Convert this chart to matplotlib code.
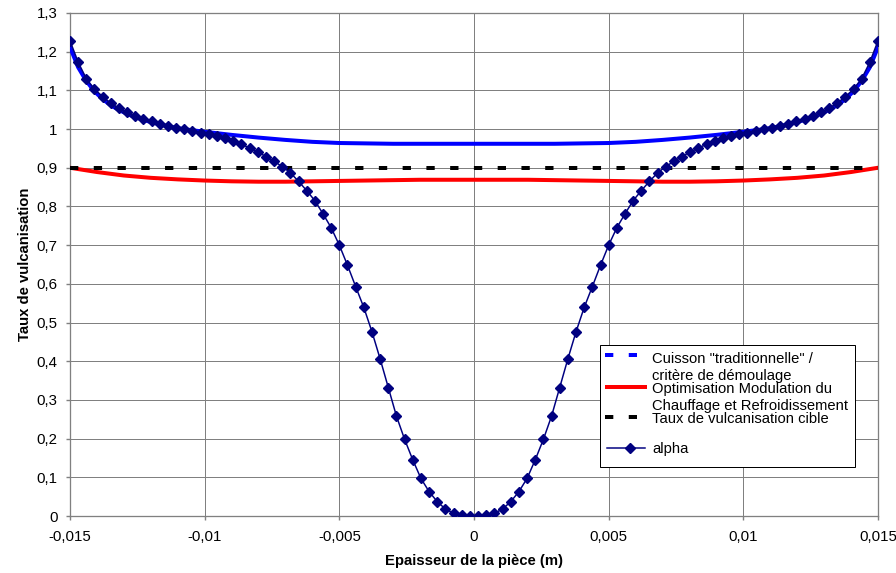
import numpy as np
import matplotlib
matplotlib.use("Agg")
import matplotlib.pyplot as plt
from matplotlib.lines import Line2D
from matplotlib.patches import Rectangle

plt.rcParams['font.family'] = ['Liberation Sans', 'DejaVu Sans']

# alpha : 100 points regulierement espaces sur l'epaisseur
x_alpha = np.linspace(-0.015, 0.015, 100)
alpha = [1.228, 1.173, 1.130, 1.103, 1.084, 1.067, 1.054, 1.044, 1.034, 1.027,
         1.020, 1.013, 1.008, 1.004, 0.999, 0.995, 0.991, 0.987, 0.982, 0.976,
         0.969, 0.961, 0.951, 0.941, 0.929, 0.917, 0.903, 0.887, 0.865, 0.841,
         0.815, 0.781, 0.745, 0.700, 0.648, 0.593, 0.539, 0.476, 0.406, 0.332,
         0.258, 0.198, 0.145, 0.097, 0.063, 0.037, 0.018, 0.007, 0.002, 0.000,
         0.000, 0.002, 0.007, 0.018, 0.037, 0.063, 0.097, 0.145, 0.198, 0.258,
         0.332, 0.406, 0.476, 0.539, 0.593, 0.648, 0.700, 0.745, 0.781, 0.815,
         0.841, 0.865, 0.887, 0.903, 0.917, 0.929, 0.941, 0.951, 0.961, 0.969,
         0.976, 0.982, 0.987, 0.991, 0.995, 0.999, 1.004, 1.008, 1.013, 1.020,
         1.027, 1.034, 1.044, 1.054, 1.067, 1.084, 1.103, 1.130, 1.173, 1.228]

# cuisson traditionnelle
x_trad = [-0.015, -0.0147, -0.0144, -0.0141, -0.0138, -0.0135, -0.0132, -0.0129,
          -0.0126, -0.012, -0.0114, -0.0108, -0.010, -0.009, -0.008, -0.007,
          -0.006, -0.005, -0.003, 0.0, 0.003, 0.005, 0.006, 0.007, 0.008, 0.009,
          0.010, 0.0108, 0.0114, 0.012, 0.0126, 0.0129, 0.0132, 0.0135, 0.0138,
          0.0141, 0.0144, 0.0147, 0.015]
trad = [1.212, 1.160, 1.125, 1.098, 1.078, 1.062, 1.050, 1.040, 1.031, 1.018,
        1.008, 1.000, 0.993, 0.985, 0.978, 0.972, 0.967, 0.964, 0.962, 0.962,
        0.962, 0.964, 0.967, 0.972, 0.978, 0.985, 0.993, 1.000, 1.008, 1.018,
        1.031, 1.040, 1.050, 1.062, 1.078, 1.098, 1.125, 1.160, 1.212]

# optimisation modulation chauffage / refroidissement
x_opt = [-0.015, -0.014, -0.013, -0.012, -0.011, -0.010, -0.009, -0.008, -0.007,
         -0.006, -0.005, -0.004, -0.003, -0.002, -0.001, 0.0, 0.001, 0.002, 0.003,
         0.004, 0.005, 0.006, 0.007, 0.008, 0.009, 0.010, 0.011, 0.012, 0.013,
         0.014, 0.015]
opt = [0.900, 0.889, 0.880, 0.874, 0.870, 0.867, 0.865, 0.864, 0.864, 0.865,
       0.866, 0.867, 0.868, 0.869, 0.869, 0.869, 0.869, 0.869, 0.868, 0.867,
       0.866, 0.865, 0.864, 0.864, 0.865, 0.867, 0.870, 0.874, 0.880, 0.889,
       0.900]

# taux cible
x_cible = [-0.015, 0.015]
cible = [0.9, 0.9]

xticks = [-0.015, -0.01, -0.005, 0, 0.005, 0.01, 0.015]
xtick_labels = ['-0,015', '-0,01', '-0,005', '0', '0,005', '0,01', '0,015']
yticks = [0, 0.1, 0.2, 0.3, 0.4, 0.5, 0.6, 0.7, 0.8, 0.9, 1.0, 1.1, 1.2, 1.3]
ytick_labels = ['0', '0,1', '0,2', '0,3', '0,4', '0,5', '0,6', '0,7', '0,8',
                '0,9', '1', '1,1', '1,2', '1,3']

labels = ['Cuisson "traditionnelle" /\ncritère de démoulage',
          'Optimisation Modulation du\nChauffage et Refroidissement',
          'Taux de vulcanisation cible',
          'alpha']

W, H = 896, 573
fig = plt.figure(figsize=(W / 100, H / 100), dpi=100)
ax = fig.add_axes([70 / W, 1 - 516 / H, 808 / W, 503 / H])

px = 72 / 100  # 1 pixel en points
dash = (2.08, 3.86)

ax.plot(x_trad, trad, color='#0000ff', lw=4 * px, zorder=3)
ax.plot(x_opt, opt, color='#ff0000', lw=4 * px, zorder=4)
ax.plot(x_cible, cible, color='black', lw=4 * px, dashes=dash, zorder=5)
ax.plot(x_alpha, alpha, color='#000080', lw=1.5 * px, marker='D', ms=5,
        zorder=6)

ax.set_xlim(-0.015, 0.015)
ax.set_ylim(0, 1.3)
ax.set_xticks(xticks)
ax.set_xticklabels(xtick_labels)
ax.set_yticks(yticks)
ax.set_yticklabels(ytick_labels)
ax.tick_params(direction='out', length=3, width=1, color='#808080',
               labelsize=10.8)
ax.tick_params(axis='x', pad=7)
ax.tick_params(axis='y', pad=6)
ax.grid(True, color='#808080', lw=1 * px)
for s in ax.spines.values():
    s.set_color('#808080')
    s.set_linewidth(1.3 * px)

ax.set_xlabel('Epaisseur de la pièce (m)', fontsize=10.7, fontweight='bold')
ax.set_ylabel('Taux de vulcanisation', fontsize=10.7, fontweight='bold')
ax.xaxis.set_label_coords(0.5, -0.075)
ax.yaxis.set_label_coords(-0.047, 0.5)


# legende dessinee a la main (position en pixels)
def fx(x):
    return x / W


def fy(y):
    return 1 - y / H


fig.patches.append(Rectangle((fx(600), fy(467)), fx(855) - fx(600),
                             fy(345) - fy(467), transform=fig.transFigure,
                             facecolor='white', edgecolor='black',
                             lw=1 * px, zorder=10))
handles = [dict(color='#0000ff', lw=4 * px, dashes=dash),
           dict(color='#ff0000', lw=4 * px),
           dict(color='black', lw=4 * px, dashes=dash),
           dict(color='#000080', lw=1.5 * px)]
hy = [355, 387, 417, 448]
ty = [[358, 375], [388, 405], [418], [448]]
for h, y0, lab, lines_y in zip(handles, hy, labels, ty):
    x0, x1 = (605, 637) if 'dashes' in h else (607, 645)
    fig.add_artist(Line2D([fx(x0), fx(x1)], [fy(y0), fy(y0)],
                          transform=fig.transFigure, zorder=11, **h))
    for line, yl in zip(lab.split('\n'), lines_y):
        fig.text(fx(652), fy(yl + 1), line, fontsize=10.6, va='center',
                 ha='left', zorder=12)
fig.add_artist(Line2D([fx(630)], [fy(448)], transform=fig.transFigure,
                      marker='D', ms=5, color='#000080', zorder=11))

fig.savefig('out.png', dpi=100)
